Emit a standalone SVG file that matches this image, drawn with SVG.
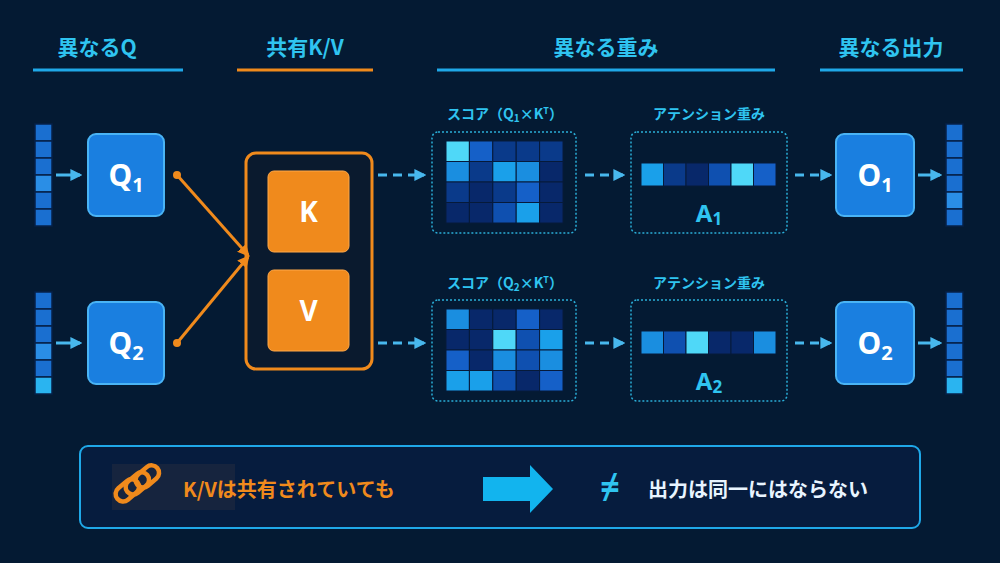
<svg xmlns="http://www.w3.org/2000/svg" width="1000" height="563" viewBox="0 0 1000 563">
<defs>
<style>
.h{font-family:"Noto Sans CJK JP","Noto Sans",sans-serif;font-weight:700;font-size:21px;fill:#2fc4f0;text-anchor:middle}
.ul{stroke:#1fa8e8;stroke-width:3}
.qb{fill:#1a7fe0;stroke:#4ab4f5;stroke-width:2}
.qt{font-family:"Noto Sans","Liberation Sans",sans-serif;font-weight:700;font-size:30px;fill:#fff;text-anchor:middle}
.sub{font-size:20px}
.vc{fill:#1a6fd0;stroke:#062048;stroke-width:1.5}
.arr{stroke:#48b8ee;stroke-width:3;fill:none}
.dash{stroke:#48b8ee;stroke-width:3;fill:none;stroke-dasharray:9 6}
.dot{fill:none;stroke:#2aaed8;stroke-width:1.5;stroke-dasharray:2 2}
.lb{font-family:"Noto Sans CJK JP","Noto Sans",sans-serif;font-weight:700;font-size:14px;fill:#2fc4f0;text-anchor:middle}
.at{font-family:"Noto Sans","Liberation Sans",sans-serif;font-weight:700;font-size:24px;fill:#2fc4f0;text-anchor:middle}
.kv{fill:#f08a1c;stroke:#ffa848;stroke-width:1}
.kt{font-family:"Noto Sans","Liberation Sans",sans-serif;font-weight:700;font-size:28px;fill:#fff;text-anchor:middle}
.ol{stroke:#f08a1c;stroke-width:3;fill:none}
.a{fill:#4fd8f8}.b{fill:#1aa0ea}.c{fill:#1a8ee0}.d{fill:#1560c8}.e{fill:#0f50b0}.f{fill:#0a3a8a}.g{fill:#08286a}
.gc rect{stroke:#061a3a;stroke-width:1}
</style>
<marker id="ah" viewBox="0 0 10 10" refX="8" refY="5" markerWidth="4" markerHeight="4" orient="auto"><path d="M0,0L10,5L0,10z" fill="#48b8ee"/></marker>
<marker id="oh" viewBox="0 0 10 10" refX="8" refY="5" markerWidth="4" markerHeight="4" orient="auto"><path d="M0,0L10,5L0,10z" fill="#f08a1c"/></marker>
</defs>
<rect width="1000" height="563" fill="#041a33"/>

<g id="headings">
<text class="h" x="97" y="55">異なるQ</text><line class="ul" x1="33" y1="70" x2="183" y2="70"/>
<text class="h" x="305" y="55">共有K/V</text><line class="ul" x1="237" y1="70" x2="373" y2="70" style="stroke:#f08a1c"/>
<text class="h" x="606" y="55">異なる重み</text><line class="ul" x1="437" y1="70" x2="775" y2="70"/>
<text class="h" x="891" y="55">異なる出力</text><line class="ul" x1="820" y1="70" x2="963" y2="70"/>
</g>

<g id="vec-in1">
<rect class="vc" x="35" y="124" width="17" height="17"/><rect class="vc" x="35" y="141" width="17" height="17"/><rect class="vc" x="35" y="158" width="17" height="17"/><rect class="vc" x="35" y="175" width="17" height="17" style="fill:#2a8ee6"/><rect class="vc" x="35" y="192" width="17" height="17"/><rect class="vc" x="35" y="209" width="17" height="17"/>
</g>
<g id="vec-in2">
<rect class="vc" x="35" y="292" width="17" height="17"/><rect class="vc" x="35" y="309" width="17" height="17"/><rect class="vc" x="35" y="326" width="17" height="17"/><rect class="vc" x="35" y="343" width="17" height="17" style="fill:#2a8ee6"/><rect class="vc" x="35" y="360" width="17" height="17"/><rect class="vc" x="35" y="377" width="17" height="17" style="fill:#2ab4f0"/>
</g>
<g id="Q1"><rect class="qb" x="88" y="134" width="76" height="82" rx="8"/><text class="qt" x="126" y="186">Q<tspan class="sub" dy="6">1</tspan></text></g>
<g id="Q2"><rect class="qb" x="88" y="302" width="76" height="82" rx="8"/><text class="qt" x="126" y="354">Q<tspan class="sub" dy="6">2</tspan></text></g>

<g id="KV">
<rect x="246" y="153" width="126" height="216" rx="10" fill="#0a1a2e" stroke="#f08a1c" stroke-width="3"/>
<g id="K"><rect class="kv" x="268" y="171" width="81" height="81" rx="6"/><text class="kt" x="308.5" y="222">K</text></g>
<g id="V"><rect class="kv" x="268" y="270" width="81" height="81" rx="6"/><text class="kt" x="308.5" y="321">V</text></g>
</g>

<g id="score1">
<text class="lb" x="505" y="119">スコア（Q<tspan font-size="10" dy="3">1</tspan><tspan dy="-3">×K</tspan><tspan font-size="9" dy="-5">T</tspan><tspan dy="5">）</tspan></text>
<rect class="dot" x="432" y="132" width="144" height="101" rx="6"/>
<g class="gc">
<rect class="a" x="446" y="141" width="23.4" height="20.5"/><rect class="d" x="469.4" y="141" width="23.4" height="20.5"/><rect class="f" x="492.8" y="141" width="23.4" height="20.5"/><rect class="f" x="516.2" y="141" width="23.4" height="20.5"/><rect class="f" x="539.6" y="141" width="23.4" height="20.5"/>
<rect class="c" x="446" y="161.5" width="23.4" height="20.5"/><rect class="f" x="469.4" y="161.5" width="23.4" height="20.5"/><rect class="b" x="492.8" y="161.5" width="23.4" height="20.5"/><rect class="c" x="516.2" y="161.5" width="23.4" height="20.5"/><rect class="g" x="539.6" y="161.5" width="23.4" height="20.5"/>
<rect class="f" x="446" y="182" width="23.4" height="20.5"/><rect class="g" x="469.4" y="182" width="23.4" height="20.5"/><rect class="f" x="492.8" y="182" width="23.4" height="20.5"/><rect class="d" x="516.2" y="182" width="23.4" height="20.5"/><rect class="g" x="539.6" y="182" width="23.4" height="20.5"/>
<rect class="g" x="446" y="202.5" width="23.4" height="20.5"/><rect class="g" x="469.4" y="202.5" width="23.4" height="20.5"/><rect class="e" x="492.8" y="202.5" width="23.4" height="20.5"/><rect class="b" x="516.2" y="202.5" width="23.4" height="20.5"/><rect class="g" x="539.6" y="202.5" width="23.4" height="20.5"/>
</g></g>
<g id="score2">
<text class="lb" x="505" y="288">スコア（Q<tspan font-size="10" dy="3">2</tspan><tspan dy="-3">×K</tspan><tspan font-size="9" dy="-5">T</tspan><tspan dy="5">）</tspan></text>
<rect class="dot" x="432" y="300" width="144" height="101" rx="6"/>
<g class="gc">
<rect class="c" x="446" y="309" width="23.4" height="20.5"/><rect class="g" x="469.4" y="309" width="23.4" height="20.5"/><rect class="g" x="492.8" y="309" width="23.4" height="20.5"/><rect class="d" x="516.2" y="309" width="23.4" height="20.5"/><rect class="g" x="539.6" y="309" width="23.4" height="20.5"/>
<rect class="g" x="446" y="329.5" width="23.4" height="20.5"/><rect class="g" x="469.4" y="329.5" width="23.4" height="20.5"/><rect class="a" x="492.8" y="329.5" width="23.4" height="20.5"/><rect class="e" x="516.2" y="329.5" width="23.4" height="20.5"/><rect class="b" x="539.6" y="329.5" width="23.4" height="20.5"/>
<rect class="d" x="446" y="350" width="23.4" height="20.5"/><rect class="g" x="469.4" y="350" width="23.4" height="20.5"/><rect class="c" x="492.8" y="350" width="23.4" height="20.5"/><rect class="e" x="516.2" y="350" width="23.4" height="20.5"/><rect class="c" x="539.6" y="350" width="23.4" height="20.5"/>
<rect class="b" x="446" y="370.5" width="23.4" height="20.5"/><rect class="b" x="469.4" y="370.5" width="23.4" height="20.5"/><rect class="e" x="492.8" y="370.5" width="23.4" height="20.5"/><rect class="g" x="516.2" y="370.5" width="23.4" height="20.5"/><rect class="d" x="539.6" y="370.5" width="23.4" height="20.5"/>
</g></g>

<g id="attn1">
<text class="lb" x="709" y="119">アテンション重み</text>
<rect class="dot" x="631" y="132" width="156" height="101" rx="6"/>
<g class="gc"><rect class="b" x="641" y="163" width="22.5" height="23"/><rect class="f" x="663.5" y="163" width="22.5" height="23"/><rect class="g" x="686" y="163" width="22.5" height="23"/><rect class="e" x="708.5" y="163" width="22.5" height="23"/><rect class="a" x="731" y="163" width="22.5" height="23"/><rect class="d" x="753.5" y="163" width="22.5" height="23"/></g>
<text class="at" x="709" y="222">A<tspan font-size="17" dy="3">1</tspan></text>
</g>
<g id="attn2">
<text class="lb" x="709" y="288">アテンション重み</text>
<rect class="dot" x="631" y="300" width="156" height="101" rx="6"/>
<g class="gc"><rect class="c" x="641" y="331" width="22.5" height="23"/><rect class="e" x="663.5" y="331" width="22.5" height="23"/><rect class="a" x="686" y="331" width="22.5" height="23"/><rect class="g" x="708.5" y="331" width="22.5" height="23"/><rect class="g" x="731" y="331" width="22.5" height="23"/><rect class="c" x="753.5" y="331" width="22.5" height="23"/></g>
<text class="at" x="709" y="390">A<tspan font-size="17" dy="3">2</tspan></text>
</g>

<g id="O1"><rect class="qb" x="836" y="134" width="78" height="82" rx="8"/><text class="qt" x="875" y="186">O<tspan class="sub" dy="6">1</tspan></text></g>
<g id="O2"><rect class="qb" x="836" y="302" width="78" height="82" rx="8"/><text class="qt" x="875" y="354">O<tspan class="sub" dy="6">2</tspan></text></g>

<g id="vec-out1">
<rect class="vc" x="946" y="124" width="17" height="17"/><rect class="vc" x="946" y="141" width="17" height="17"/><rect class="vc" x="946" y="158" width="17" height="17"/><rect class="vc" x="946" y="175" width="17" height="17"/><rect class="vc" x="946" y="192" width="17" height="17" style="fill:#2a8ee6"/><rect class="vc" x="946" y="209" width="17" height="17"/>
</g>
<g id="vec-out2">
<rect class="vc" x="946" y="292" width="17" height="17"/><rect class="vc" x="946" y="309" width="17" height="17"/><rect class="vc" x="946" y="326" width="17" height="17"/><rect class="vc" x="946" y="343" width="17" height="17"/><rect class="vc" x="946" y="360" width="17" height="17"/><rect class="vc" x="946" y="377" width="17" height="17" style="fill:#2ab4f0"/>
</g>

<g id="connectors">
<line class="arr" x1="56" y1="175" x2="80" y2="175" marker-end="url(#ah)"/>
<line class="arr" x1="56" y1="343" x2="80" y2="343" marker-end="url(#ah)"/>
<circle cx="177" cy="175" r="4" fill="#f08a1c"/><circle cx="177" cy="343" r="4" fill="#f08a1c"/>
<line class="ol" x1="177" y1="175" x2="248" y2="255" marker-end="url(#oh)"/>
<line class="ol" x1="177" y1="343" x2="248" y2="257" marker-end="url(#oh)"/>
<line class="dash" x1="378" y1="175" x2="424" y2="175" marker-end="url(#ah)"/>
<line class="dash" x1="378" y1="343" x2="424" y2="343" marker-end="url(#ah)"/>
<line class="dash" x1="585" y1="175" x2="623" y2="175" marker-end="url(#ah)"/>
<line class="dash" x1="585" y1="343" x2="623" y2="343" marker-end="url(#ah)"/>
<line class="dash" x1="795" y1="175" x2="830" y2="175" marker-end="url(#ah)"/>
<line class="dash" x1="795" y1="343" x2="830" y2="343" marker-end="url(#ah)"/>
<line class="arr" x1="918" y1="175" x2="940" y2="175" marker-end="url(#ah)"/>
<line class="arr" x1="918" y1="343" x2="940" y2="343" marker-end="url(#ah)"/>
</g>

<g id="summary">
<rect x="80" y="446" width="840" height="82" rx="8" fill="#061c3e" stroke="#1fa8e8" stroke-width="2"/>
<rect x="112" y="464" width="123" height="46" fill="#16243e"/>
<g fill="none" stroke="#f08a1c" stroke-width="4.5">
<rect x="114" y="483" width="26" height="15" rx="7.5" transform="rotate(-40 127 490)"/>
<rect x="124" y="476" width="26" height="15" rx="7.5" transform="rotate(-40 137 483)"/>
<rect x="134" y="469" width="26" height="15" rx="7.5" transform="rotate(-40 147 476)"/>
</g>
<text x="183" y="497" font-family="'Noto Sans CJK JP','Noto Sans',sans-serif" font-weight="700" font-size="20" fill="#f08a1c">K/Vは共有されていても</text>
<path d="M483,477H530V465L553,489L530,513V501H483Z" fill="#12b4ee"/>
<text x="610" y="499" font-family="'Noto Sans','Liberation Sans',sans-serif" font-weight="700" font-size="34" fill="#2fc4f0" text-anchor="middle">≠</text>
<text x="648" y="497" font-family="'Noto Sans CJK JP','Noto Sans',sans-serif" font-weight="700" font-size="20" fill="#e8f4ff">出力は同一にはならない</text>
</g>
</svg>
